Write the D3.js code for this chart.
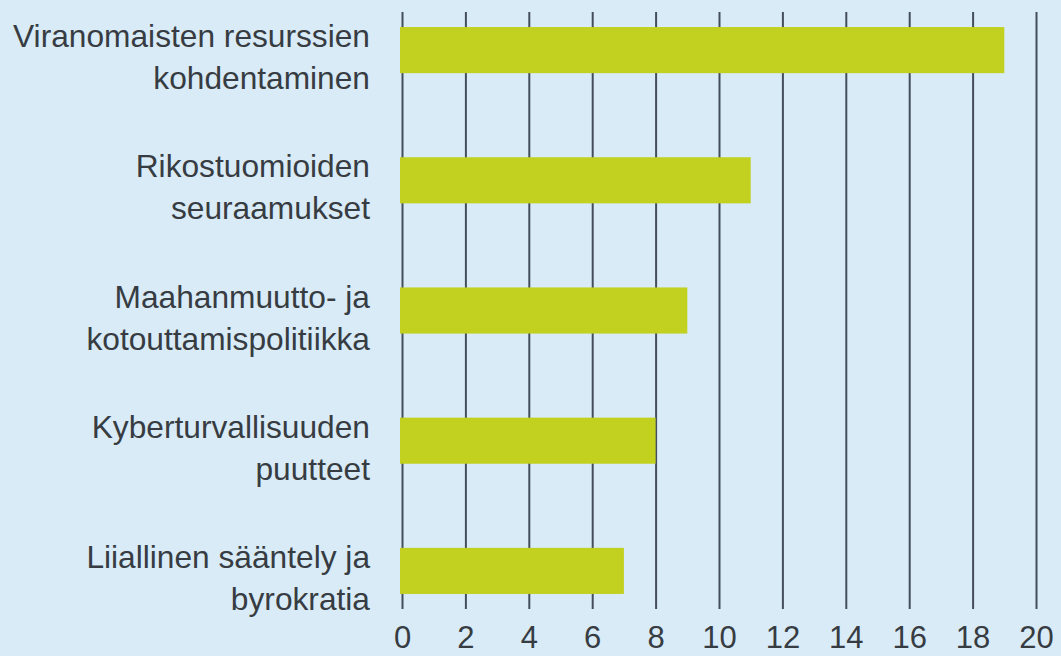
<!DOCTYPE html>
<html>
<head>
<meta charset="utf-8">
<script src="https://cdn.jsdelivr.net/npm/d3@7"></script>
<style>
  html, body { margin: 0; padding: 0; background: #d8ebf7; }
  svg { display: block; }
  .label { font-family: "Liberation Sans", Arial, sans-serif; font-size: 31.7px; fill: #373c42; }
  .axis text { font-family: "Liberation Sans", Arial, sans-serif; font-size: 31px; fill: #373c42; }
</style>
</head>
<body>
<div class="chart"></div>
<script>
// categories (two-line labels) and values
const categories = [
  ["Viranomaisten resurssien", "kohdentaminen"],
  ["Rikostuomioiden", "seuraamukset"],
  ["Maahanmuutto- ja", "kotouttamispolitiikka"],
  ["Kyberturvallisuuden", "puutteet"],
  ["Liiallinen sääntely ja", "byrokratia"]
];
const values = [19, 11, 9, 8, 7];
const xTicks = [0, 2, 4, 6, 8, 10, 12, 14, 16, 18, 20];

const width = 1061, height = 656;

const svg = d3.select(".chart").append("svg")
  .attr("width", width)
  .attr("height", height);

svg.append("rect")
  .attr("width", width)
  .attr("height", height)
  .attr("fill", "#d8ebf7");

const x = d3.scaleLinear()
  .domain([0, 20])
  .range([402, 1036]);

const y = d3.scaleBand()
  .domain(d3.range(categories.length))
  .range([-15, 636])
  .paddingInner(0.646)
  .paddingOuter(0.323);

const gridTop = 12, gridBottom = 609;

// gridlines + tick labels
const axis = svg.append("g")
  .attr("class", "axis")
  .attr("transform", "translate(0," + gridBottom + ")")
  .call(d3.axisBottom(x)
    .tickValues(xTicks)
    .tickSizeInner(-(gridBottom - gridTop))
    .tickSizeOuter(0)
    .tickPadding(17));

axis.select(".domain").remove();
axis.selectAll(".tick line")
  .attr("stroke", "#444e5a")
  .attr("stroke-width", 2);

// bars
svg.selectAll("rect.bar")
  .data(values)
  .enter().append("rect")
  .attr("class", "bar")
  .attr("x", x(0) - 2)
  .attr("y", (d, i) => y(i))
  .attr("width", d => x(d) - x(0) + 2)
  .attr("height", y.bandwidth())
  .attr("fill", "#c2d01f");

// category labels
const labels = svg.selectAll("text.label")
  .data(categories)
  .enter().append("text")
  .attr("class", "label")
  .attr("text-anchor", "end")
  .attr("x", 370)
  .attr("y", (d, i) => y(i) + y.bandwidth() / 2 - 3);

labels.selectAll("tspan")
  .data(d => d)
  .enter().append("tspan")
  .attr("x", 370)
  .attr("dy", (d, i) => i === 0 ? 0 : 42)
  .text(d => d);
</script>
</body>
</html>
